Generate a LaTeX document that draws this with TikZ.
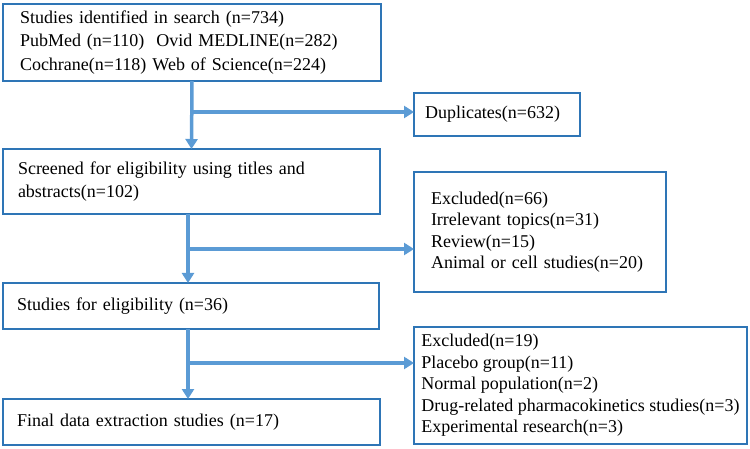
\documentclass[tikz,border=0pt]{standalone}
\usepackage{fontspec}
\setmainfont{Liberation Serif}
\usetikzlibrary{positioning,arrows.meta}
\definecolor{boxblue}{RGB}{46,117,182}
\definecolor{arrblue}{RGB}{91,155,213}

\begin{document}
\begin{tikzpicture}[x=1pt,y=-1pt,
rec/.style={
    rectangle,
    draw=boxblue,
    align=left,
    anchor=north west,
    inner ysep=0pt,
    outer sep=0pt,
    line width=2pt,
    font=\fontsize{18}{23.5}\selectfont
    },
side/.style={
    rec,
    font=\fontsize{18}{21.5}\selectfont
    },
arr/.style={
    line width=3.5pt,
    draw=arrblue,
    -{Triangle[width=12pt,length=10pt]}}
]
\useasboundingbox (0,0) rectangle (750,449);
\node(search) at (3,4) [rec,minimum width=378pt,minimum height=77pt,inner xsep=17pt,text width=344pt]
  {Studies identified in search (n=734)\\ PubMed (n=110)\ \ Ovid MEDLINE(n=282)\\ Cochrane(n=118) Web of Science(n=224)};
\node(dup) at (414,93) [side,minimum width=166pt,minimum height=43pt,inner xsep=11pt,text width=144pt] {Duplicates(n=632)};
\node(screen) at (3,149) [rec,minimum width=377pt,minimum height=65pt,inner xsep=15pt,text width=347pt]
  {Screened for eligibility using titles and\\ abstracts(n=102)};
\node(excl1) at (414,172) [side,minimum width=252pt,minimum height=120pt,inner xsep=17pt,text width=218pt]
  {Excluded(n=66)\\ Irrelevant topics(n=31)\\ Review(n=15)\\ Animal or cell studies(n=20)};
\node(elig) at (3,283) [rec,minimum width=376pt,minimum height=46pt,inner xsep=14pt,text width=348pt] {Studies for eligibility (n=36)};
\node(excl2) at (414,327) [side,minimum width=333pt,minimum height=117pt,inner xsep=7pt]
  {Excluded(n=19)\\ Placebo group(n=11)\\ Normal population(n=2)\\ Drug-related pharmacokinetics studies(n=3)\\ Experimental research(n=3)};
\node(final) at (3,399) [rec,minimum width=377pt,minimum height=46pt,inner xsep=14pt,text width=349pt] {Final data extraction studies (n=17)};
\coordinate(b1) at (192,112);
\coordinate(b2) at (188,249);
\coordinate(b3) at (188,363);
\draw[arr] (search.south) -- (screen.north);
\draw[arr] (b1) -- (b1 -| dup.west);
\draw[arr] (b2 |- screen.south) -- (b2 |- elig.north);
\draw[arr] (b2) -- (b2 -| excl1.west);
\draw[arr] (b3 |- elig.south) -- (b3 |- final.north);
\draw[arr] (b3) -- (b3 -| excl2.west);
\end{tikzpicture}
\end{document}
